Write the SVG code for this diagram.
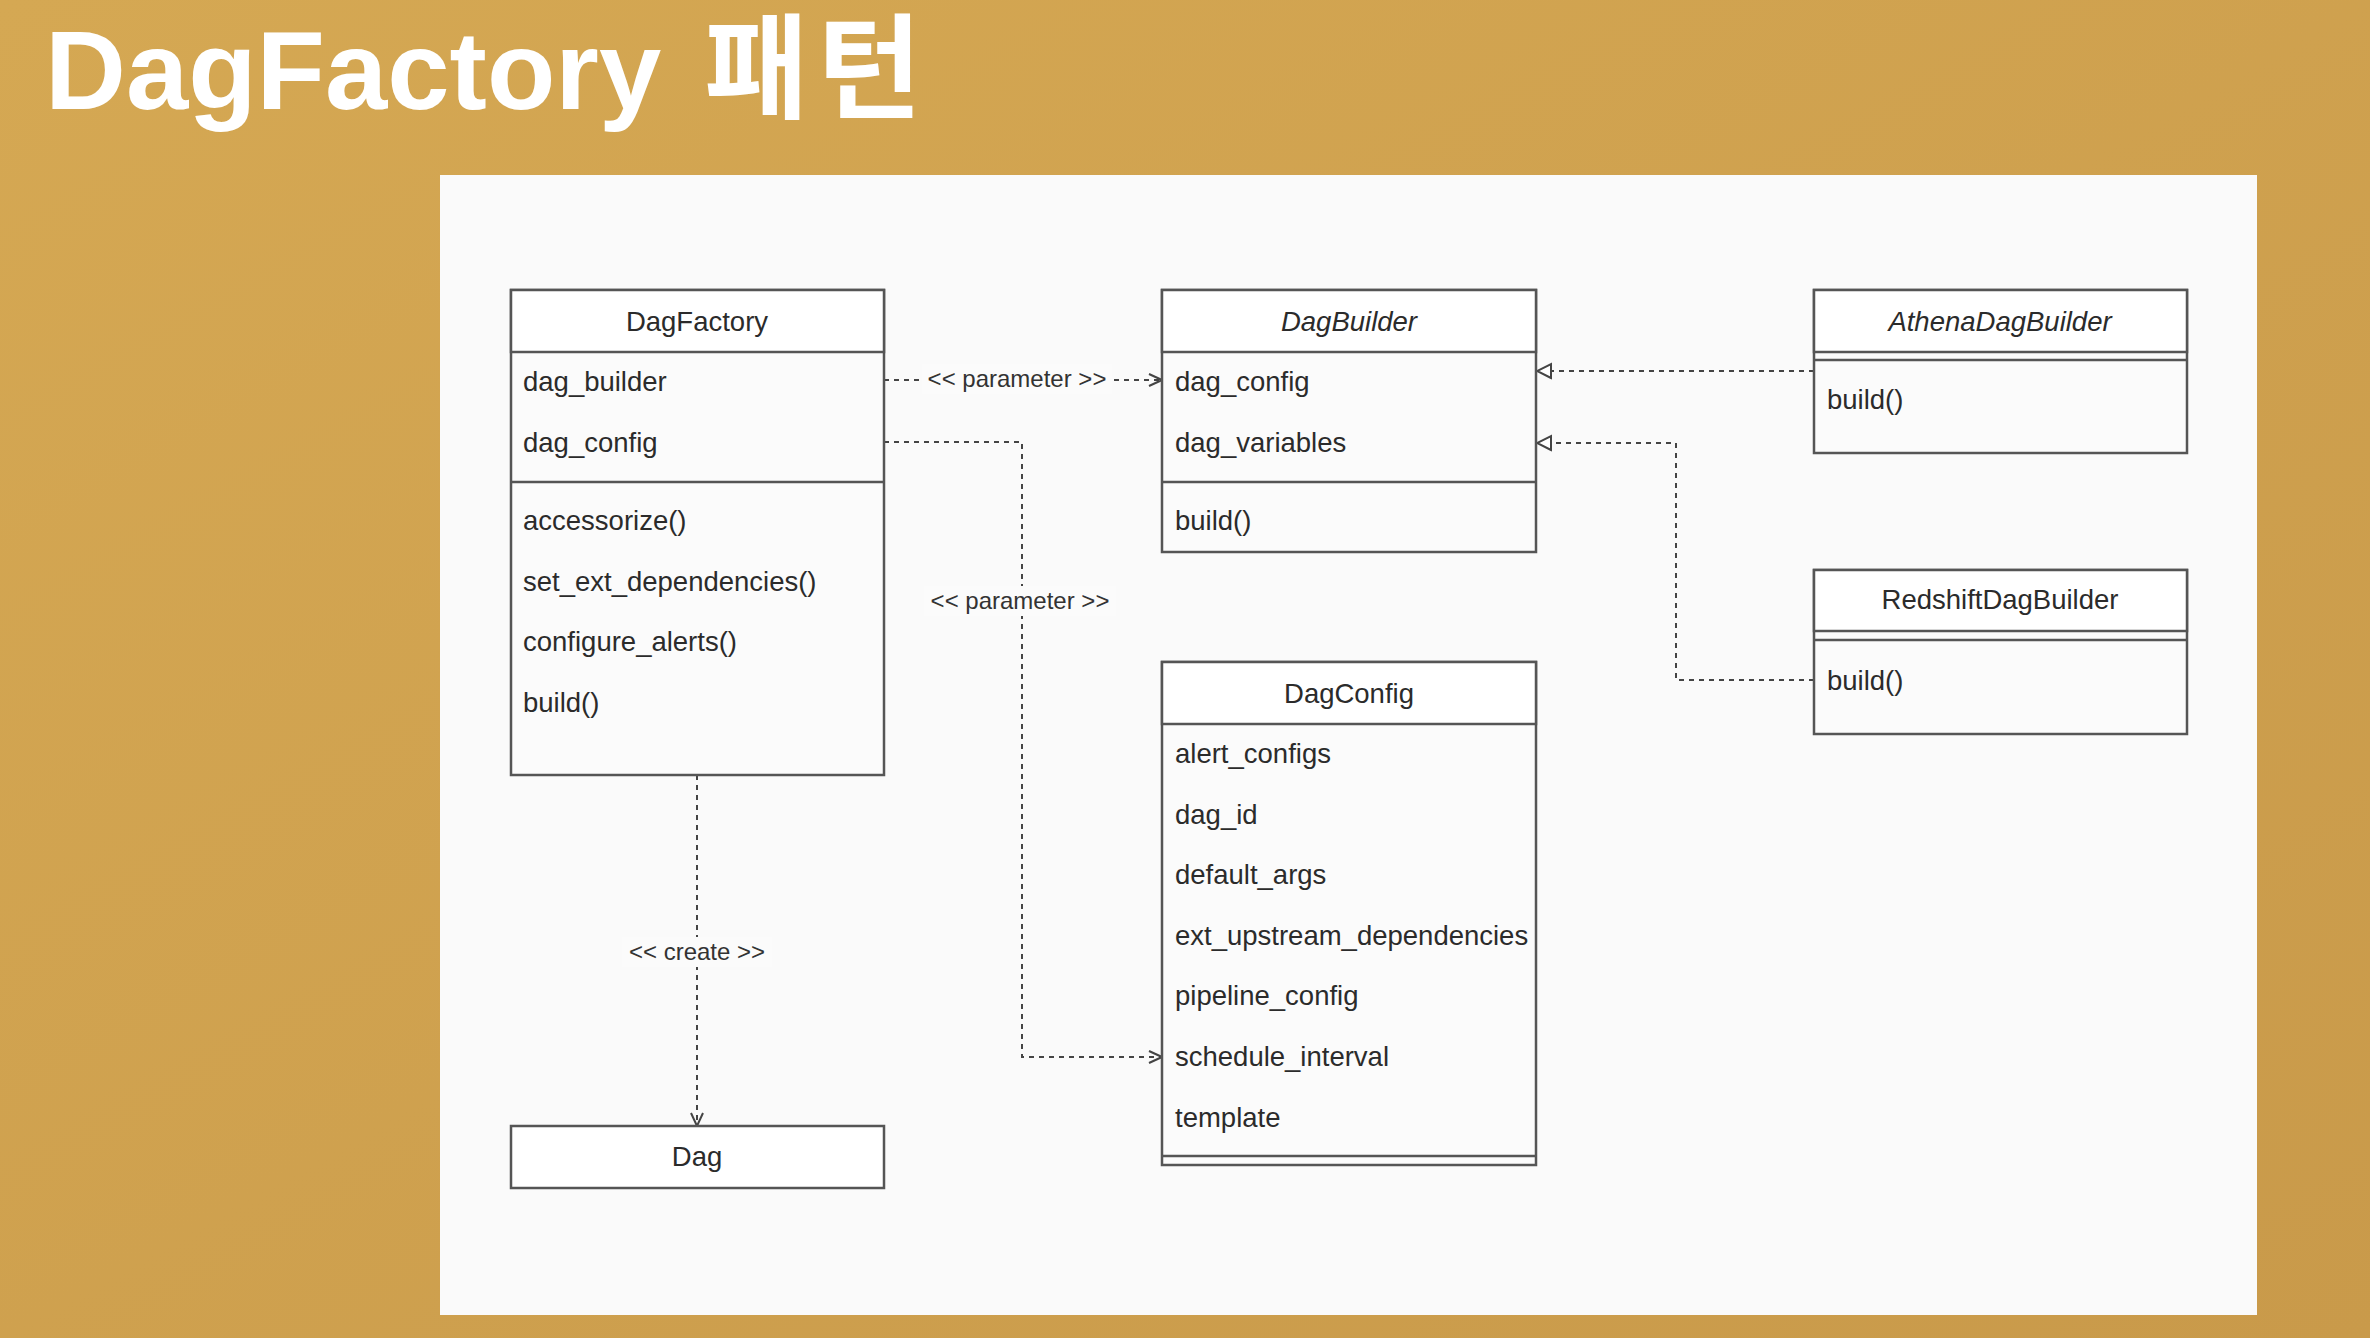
<svg xmlns="http://www.w3.org/2000/svg" width="2370" height="1338" viewBox="0 0 2370 1338">
<defs>
<linearGradient id="bg" x1="0" y1="0" x2="1" y2="1">
<stop offset="0" stop-color="#D5A853"/>
<stop offset="1" stop-color="#C99A4A"/>
</linearGradient>
<marker id="open" viewBox="0 0 16 16" refX="15" refY="8" markerWidth="16" markerHeight="16" orient="auto" markerUnits="userSpaceOnUse">
<path d="M2,2 L15,8 L2,14" fill="none" stroke="#444" stroke-width="2"/>
</marker>
<marker id="tri" viewBox="0 0 18 18" refX="17" refY="9" markerWidth="18" markerHeight="18" orient="auto" markerUnits="userSpaceOnUse">
<path d="M2,2 L16,9 L2,16 Z" fill="#fff" stroke="#444" stroke-width="2"/>
</marker>
<clipPath id="clipCfg"><rect x="1164" y="900" width="368" height="70"/></clipPath>
</defs>
<style>
.box{fill:#FBFBFB;stroke:#555;stroke-width:2.5}
.head{fill:#FFFFFF;stroke:#555;stroke-width:2.5}
.sep{stroke:#555;stroke-width:2.5}
.t{font-family:"Liberation Sans",Arial,sans-serif;font-size:27.5px;fill:#2b2b2b}
.c{text-anchor:middle}
.i{font-style:italic}
.lbl{font-family:"Liberation Sans",Arial,sans-serif;font-size:24px;fill:#333;text-anchor:middle}
.conn{fill:none;stroke:#444;stroke-width:2;stroke-dasharray:5 5}
.lblbg{fill:#FBFBFB}
</style>
<rect x="0" y="0" width="2370" height="1338" fill="url(#bg)"/>
<text x="45" y="109" font-family="'Liberation Sans','Noto Sans CJK KR',sans-serif" font-weight="bold" font-size="112" fill="#FFFFFF">DagFactory <tspan x="704" font-size="114" letter-spacing="8">패턴</tspan></text>
<rect x="440" y="175" width="1817" height="1140" fill="#FAFAFA"/>

<g id="connectors">
<path class="conn" d="M884,380 L1162,380" marker-end="url(#open)"/>
<path class="conn" d="M884,442 L1022,442 L1022,1057 L1162,1057" marker-end="url(#open)"/>
<path class="conn" d="M697,775 L697,1126" marker-end="url(#open)"/>
<path class="conn" d="M1814,371 L1536,371" marker-end="url(#tri)"/>
<path class="conn" d="M1814,680 L1676,680 L1676,443 L1536,443" marker-end="url(#tri)"/>
<rect class="lblbg" x="922" y="364" width="190" height="30"/>
<text class="lbl" x="1017" y="387">&lt;&lt; parameter &gt;&gt;</text>
<rect class="lblbg" x="924" y="586" width="192" height="30"/>
<text class="lbl" x="1020" y="609">&lt;&lt; parameter &gt;&gt;</text>
<rect class="lblbg" x="622" y="937" width="150" height="30"/>
<text class="lbl" x="697" y="960">&lt;&lt; create &gt;&gt;</text>
</g>

<g id="DagFactory">
<rect class="box" x="511" y="290" width="373" height="485"/>
<rect class="head" x="511" y="290" width="373" height="62"/>
<line class="sep" x1="511" y1="482" x2="884" y2="482"/>
<text class="t c" x="697" y="331">DagFactory</text>
<text class="t" x="523" y="391">dag_builder</text>
<text class="t" x="523" y="452">dag_config</text>
<text class="t" x="523" y="530">accessorize()</text>
<text class="t" x="523" y="591">set_ext_dependencies()</text>
<text class="t" x="523" y="651">configure_alerts()</text>
<text class="t" x="523" y="712">build()</text>
</g>

<g id="DagBuilder">
<rect class="box" x="1162" y="290" width="374" height="262"/>
<rect class="head" x="1162" y="290" width="374" height="62"/>
<line class="sep" x1="1162" y1="482" x2="1536" y2="482"/>
<text class="t c i" x="1349" y="331">DagBuilder</text>
<text class="t" x="1175" y="391">dag_config</text>
<text class="t" x="1175" y="452">dag_variables</text>
<text class="t" x="1175" y="530">build()</text>
</g>

<g id="AthenaDagBuilder">
<rect class="box" x="1814" y="290" width="373" height="163"/>
<rect class="head" x="1814" y="290" width="373" height="62"/>
<line class="sep" x1="1814" y1="360" x2="2187" y2="360"/>
<text class="t c i" x="2000" y="331">AthenaDagBuilder</text>
<text class="t" x="1827" y="409">build()</text>
</g>

<g id="RedshiftDagBuilder">
<rect class="box" x="1814" y="570" width="373" height="164"/>
<rect class="head" x="1814" y="570" width="373" height="61"/>
<line class="sep" x1="1814" y1="640" x2="2187" y2="640"/>
<text class="t c" x="2000" y="609">RedshiftDagBuilder</text>
<text class="t" x="1827" y="690">build()</text>
</g>

<g id="DagConfig">
<rect class="box" x="1162" y="662" width="374" height="503"/>
<rect class="head" x="1162" y="662" width="374" height="62"/>
<line class="sep" x1="1162" y1="1156" x2="1536" y2="1156"/>
<text class="t c" x="1349" y="703">DagConfig</text>
<text class="t" x="1175" y="763">alert_configs</text>
<text class="t" x="1175" y="824">dag_id</text>
<text class="t" x="1175" y="884">default_args</text>
<text class="t" x="1175" y="945" clip-path="url(#clipCfg)">ext_upstream_dependencies</text>
<text class="t" x="1175" y="1005">pipeline_config</text>
<text class="t" x="1175" y="1066">schedule_interval</text>
<text class="t" x="1175" y="1127">template</text>
</g>

<g id="Dag">
<rect class="head" x="511" y="1126" width="373" height="62"/>
<text class="t c" x="697" y="1166">Dag</text>
</g>
</svg>
